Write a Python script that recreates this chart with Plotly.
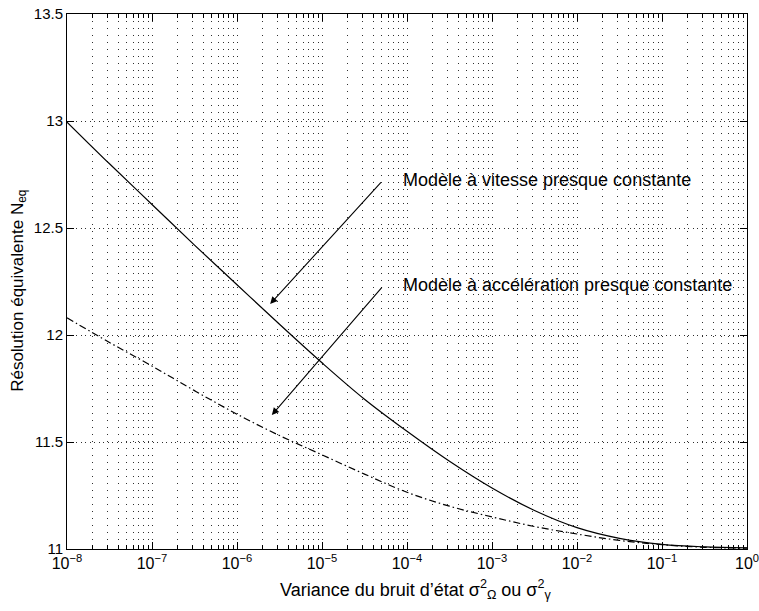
import plotly.graph_objects as go

# State-noise variance (log10 of the value) at half-decade steps
log_variance = [-8, -7.5, -7, -6.5, -6, -5.5, -5, -4.5, -4, -3.5, -3, -2.5, -2, -1.5, -1, -0.5, 0]
variance = [10 ** v for v in log_variance]

# Equivalent resolution for each model
n_eq_vitesse = [12.995, 12.80, 12.61, 12.42, 12.235, 12.05, 11.87, 11.70, 11.55, 11.41,
                11.285, 11.18, 11.10, 11.05, 11.022, 11.01, 11.005]
n_eq_acceleration = [12.08, 11.965, 11.855, 11.74, 11.63, 11.53, 11.44, 11.35, 11.265, 11.20,
                     11.15, 11.105, 11.07, 11.04, 11.02, 11.008, 11.004]

x_tick_vals = [10 ** k for k in range(-8, 1)]
x_tick_text = [f"10<sup>{'−' if k < 0 else ''}{abs(k)}</sup>" for k in range(-8, 1)]
x_minor_vals = [m * 10 ** k for k in range(-8, 0) for m in range(2, 10)]
y_tick_vals = [11, 11.5, 12, 12.5, 13, 13.5]
y_tick_text = ["11", "11.5", "12", "12.5", "13", "13.5"]

FONT = "Liberation Sans, Arial, Helvetica, sans-serif"
GRID = "#303030"

fig = go.Figure()
fig.add_trace(go.Scatter(
    x=variance, y=n_eq_vitesse, mode="lines",
    line=dict(color="black", width=1.2, shape="spline", smoothing=1.0),
    showlegend=False, hoverinfo="skip",
))
fig.add_trace(go.Scatter(
    x=variance, y=n_eq_acceleration, mode="lines",
    line=dict(color="black", width=1.2, dash="7px,3px,1.5px,3px", shape="spline", smoothing=1.0),
    showlegend=False, hoverinfo="skip",
))

# Labels with arrows pointing at each curve (annotation coords on a log axis are log10 values)
labels = [
    ("Modèle à vitesse presque constante", -4.07, 12.725, -4.29, 12.72, -5.61, 12.145),
    ("Modèle à accélération presque constante", -4.07, 12.235, -4.28, 12.23, -5.59, 11.626),
]
for text, tx, ty, ax, ay, hx, hy in labels:
    fig.add_annotation(
        x=hx, y=hy, ax=ax, ay=ay, xref="x", yref="y", axref="x", ayref="y",
        text="", showarrow=True, arrowhead=2, arrowsize=1.3, arrowwidth=1.1,
        arrowcolor="black",
    )
    fig.add_annotation(
        x=tx, y=ty, xref="x", yref="y", text=text, showarrow=False,
        xanchor="left", yanchor="middle",
        font=dict(family=FONT, size=18, color="black"),
    )

# Axis titles
fig.add_annotation(
    x=0.31, y=-0.075, xref="paper", yref="paper", xanchor="left", yanchor="middle",
    text="Variance du bruit d’état σ<sup>2</sup><sub>Ω</sub> ou σ<sup>2</sup><sub>γ</sub>",
    showarrow=False, font=dict(family=FONT, size=18, color="black"),
)
fig.add_annotation(
    x=-0.071, y=0.482, xref="paper", yref="paper", xanchor="center", yanchor="middle",
    text="Résolution équivalente N<sub>eq</sub>", textangle=-90,
    showarrow=False, font=dict(family=FONT, size=17, color="black"),
)

fig.update_layout(
    width=759, height=611,
    margin=dict(l=67, r=12, t=14, b=62),
    paper_bgcolor="white", plot_bgcolor="white",
    font=dict(family=FONT, size=15, color="black"),
)
fig.update_xaxes(
    type="log", range=[-8, 0], automargin=False, ticklabeloverflow="allow",
    tickvals=x_tick_vals, ticktext=x_tick_text,
    ticks="inside", ticklen=7, tickcolor="black",
    showline=True, linecolor="black", linewidth=1, mirror="ticks",
    showgrid=True, gridcolor=GRID, griddash="1px,6px", gridwidth=1,
    minor=dict(tickvals=x_minor_vals, ticks="inside", ticklen=4, tickcolor="black",
               showgrid=True, gridcolor=GRID, griddash="1px,6px", gridwidth=1),
    zeroline=False,
    tickfont=dict(family=FONT, size=16),
)
fig.update_yaxes(
    range=[11, 13.5], automargin=False, ticklabeloverflow="allow",
    tickvals=y_tick_vals, ticktext=y_tick_text,
    ticks="inside", ticklen=7, tickcolor="black",
    showline=True, linecolor="black", linewidth=1, mirror="ticks",
    showgrid=True, gridcolor=GRID, griddash="1px,3.5px", gridwidth=1,
    zeroline=False,
    tickfont=dict(family=FONT, size=15),
)

fig.write_html("out.html")
